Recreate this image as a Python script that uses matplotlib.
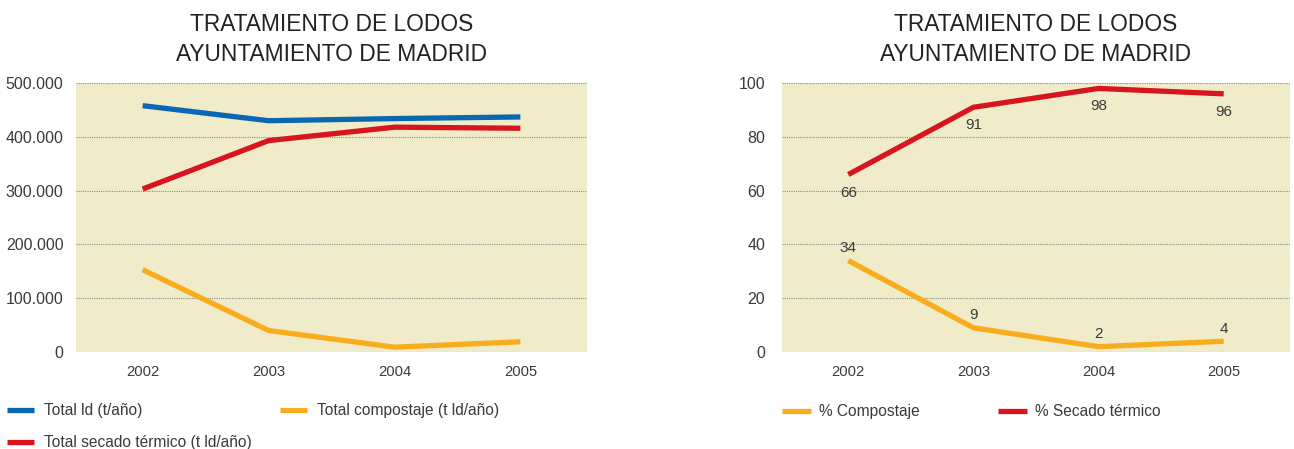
import numpy as np
import matplotlib
matplotlib.use("Agg")
from matplotlib import pyplot as plt
from matplotlib.ticker import FuncFormatter

plt.rcParams['font.family'] = ['Liberation Sans', 'DejaVu Sans']

# data
years = [2002, 2003, 2004, 2005]
total_ld = [458000, 430000, 434000, 437000]
total_secado = [303000, 393000, 418000, 416000]
total_compost = [153000, 40000, 9000, 19000]
pct_compost = [34, 9, 2, 4]
pct_secado = [66, 91, 98, 96]

title = "TRATAMIENTO DE LODOS\nAYUNTAMIENTO DE MADRID"

blue = '#0a67b1'
red = '#d8141f'
orange = '#f8ad1d'
bg = '#f0ecca'
txt = '#3a3a3a'

fig = plt.figure(figsize=(12.94, 4.49), dpi=100)
ax1 = fig.add_axes([0.0587, 0.216, 0.395, 0.599])
ax2 = fig.add_axes([0.6043, 0.216, 0.3926, 0.599])

for ax in (ax1, ax2):
	ax.set_facecolor(bg)
	for s in ax.spines.values():
		s.set_visible(False)
	ax.set_xlim(2001.47, 2005.53)
	ax.set_xticks(years)
	ax.tick_params(length=0, colors=txt, labelsize=10.6)
	ax.tick_params(axis='y', labelsize=11.5, pad=9)
	ax.tick_params(axis='x', pad=9)
	ax.grid(axis='y', color='#8a8a8a', linestyle=(0, (1, 1)), linewidth=0.8)
	ax.set_axisbelow(True)
	ax.set_title(title, fontsize=16.4, color='#222222', pad=16, linespacing=1.38)

# left chart
lw = 3.8
l_ld, = ax1.plot(years, total_ld, color=blue, lw=lw, solid_capstyle='butt')
l_comp, = ax1.plot(years, total_compost, color=orange, lw=lw, solid_capstyle='butt')
l_sec, = ax1.plot(years, total_secado, color=red, lw=lw, solid_capstyle='butt')
ax1.set_ylim(0, 500000)
ax1.set_yticks(np.arange(0, 500001, 100000))
ax1.yaxis.set_major_formatter(FuncFormatter(lambda v, p: f"{int(v):,}".replace(",", ".")))

leg_fs = 11.2
ax1.legend([l_ld, l_sec, l_comp],
	["Total ld (t/año)", "Total secado térmico (t ld/año)", "Total compostaje (t ld/año)"],
	ncol=2, loc='upper left', bbox_to_anchor=(-0.0055, 0.1335), bbox_transform=fig.transFigure,
	frameon=False, fontsize=leg_fs, handlelength=1.74, handletextpad=0.64,
	columnspacing=1.8, labelspacing=1.1, labelcolor=txt)

# right chart
r_comp, = ax2.plot(years, pct_compost, color=orange, lw=lw, solid_capstyle='butt')
r_sec, = ax2.plot(years, pct_secado, color=red, lw=lw, solid_capstyle='butt')
ax2.set_ylim(0, 100)
ax2.set_yticks(np.arange(0, 101, 20))
ax2.tick_params(axis='y', pad=12)

for x, v in zip(years, pct_secado):
	ax2.annotate(str(v), (x, v), xytext=(0, -13), textcoords='offset points',
		ha='center', va='center', fontsize=11, color=txt)
for x, v in zip(years, pct_compost):
	ax2.annotate(str(v), (x, v), xytext=(0, 9), textcoords='offset points',
		ha='center', va='center', fontsize=11, color=txt)

ax2.legend([r_comp, r_sec], ["% Compostaje", "% Secado térmico"],
	ncol=2, loc='upper left', bbox_to_anchor=(0.5935, 0.1315), bbox_transform=fig.transFigure,
	frameon=False, fontsize=leg_fs, handlelength=1.86, handletextpad=0.5,
	columnspacing=5.05, labelcolor=txt)

fig.savefig("out.png", dpi=100, facecolor='white')
